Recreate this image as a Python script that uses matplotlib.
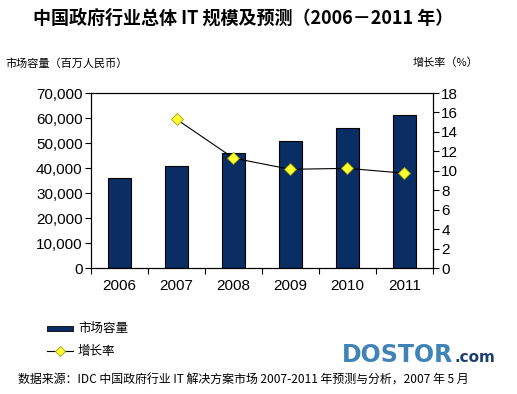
import matplotlib
matplotlib.use("Agg")
import matplotlib.pyplot as plt
from matplotlib.ticker import FuncFormatter, FixedLocator
import numpy as np

plt.rcParams['font.family'] = ['Noto Sans CJK SC', 'DejaVu Sans']

years = ['2006', '2007', '2008', '2009', '2010', '2011']
market = [36000, 41000, 46000, 50700, 55900, 61200]
growth_years = ['2007', '2008', '2009', '2010', '2011']
growth = [15.3, 11.3, 10.15, 10.25, 9.75]

W, H = 517, 394
fig = plt.figure(figsize=(W/100, H/100), dpi=100)
L, R, T, B = 91, 433, 93, 268
ax = fig.add_axes([L/W, 1-B/H, (R-L)/W, (B-T)/H])
x = np.arange(len(years))
ax.bar(x, market, width=0.39, color='#0a2d64', edgecolor='black', linewidth=0.8, zorder=2)
ax.set_xlim(-0.5, len(years)-0.5)
ax.set_ylim(0, 70000)
ax.set_yticks(np.arange(0, 70001, 10000))
ax.yaxis.set_major_formatter(FuncFormatter(lambda v, p: f"{int(v):,}"))
ax.set_xticks(x)
ax.set_xticklabels(years)
ax.xaxis.set_minor_locator(FixedLocator(np.arange(-0.5, len(years), 1.0)))
ax.tick_params(axis='x', which='major', length=0, pad=8)
ax.tick_params(axis='x', which='minor', length=4, direction='out', width=0.8)
ax.tick_params(axis='y', length=4, direction='out', width=0.8, pad=2)
for lab in ax.get_xticklabels() + ax.get_yticklabels():
    lab.set_fontfamily('Liberation Sans')
    lab.set_fontsize(11)
for s in ax.spines.values():
    s.set_linewidth(0.8)

ax2 = ax.twinx()
gx = [years.index(y) for y in growth_years]
ax2.plot(gx, growth, color='black', linewidth=0.8, marker='D', markersize=6,
         markerfacecolor='#ffff33', markeredgecolor='#a0a000', markeredgewidth=0.6, zorder=3)
ax2.set_ylim(0, 18)
ax2.set_yticks(np.arange(0, 19, 2))
ax2.tick_params(axis='y', length=4, direction='out', width=0.8, pad=2)
for lab in ax2.get_yticklabels():
    lab.set_fontfamily('Liberation Sans')
    lab.set_fontsize(11)

fig.text(243/W, 1-18/H, '中国政府行业总体 IT 规模及预测（2006－2011 年）', ha='center', va='center',
         fontsize=13, fontweight='bold')
fig.text(5/W, 1-63/H, '市场容量（百万人民币）', ha='left', va='center', fontsize=8)
fig.text(413/W, 1-63/H, '增长率（%）', ha='left', va='center', fontsize=8)

# legend
from matplotlib.patches import Rectangle
from matplotlib.lines import Line2D
fig.patches.append(Rectangle((47/W, 1-331/H), 26/W, 5/H, transform=fig.transFigure,
                             facecolor='#0a2d64', edgecolor='black', linewidth=0.6))
fig.text(78/W, 1-328/H, '市场容量', ha='left', va='center', fontsize=9)
fig.lines.append(Line2D([47/W, 73/W], [1-351/H, 1-351/H], transform=fig.transFigure,
                        color='black', linewidth=0.8))
fig.lines.append(Line2D([60/W], [1-351/H], transform=fig.transFigure, marker='D', markersize=5,
                        markerfacecolor='#ffff33', markeredgecolor='#a0a000', markeredgewidth=0.6))
fig.text(78/W, 1-351/H, '增长率', ha='left', va='center', fontsize=9)

fig.text(398/W, 1-355/H, 'DOSTOR', ha='center', va='center', fontsize=17, fontweight='bold',
         color='#3f83b8', family='DejaVu Sans')
fig.text(455/W, 1-358/H, '.com', ha='left', va='center', fontsize=11, fontweight='bold',
         color='#1c3f6e', family='DejaVu Sans')

fig.text(18/W, 1-380/H, '数据来源：IDC 中国政府行业 IT 解决方案市场 2007-2011 年预测与分析，2007 年 5 月',
         ha='left', va='center', fontsize=8.6, style='italic')

fig.savefig('out.png', dpi=100)
